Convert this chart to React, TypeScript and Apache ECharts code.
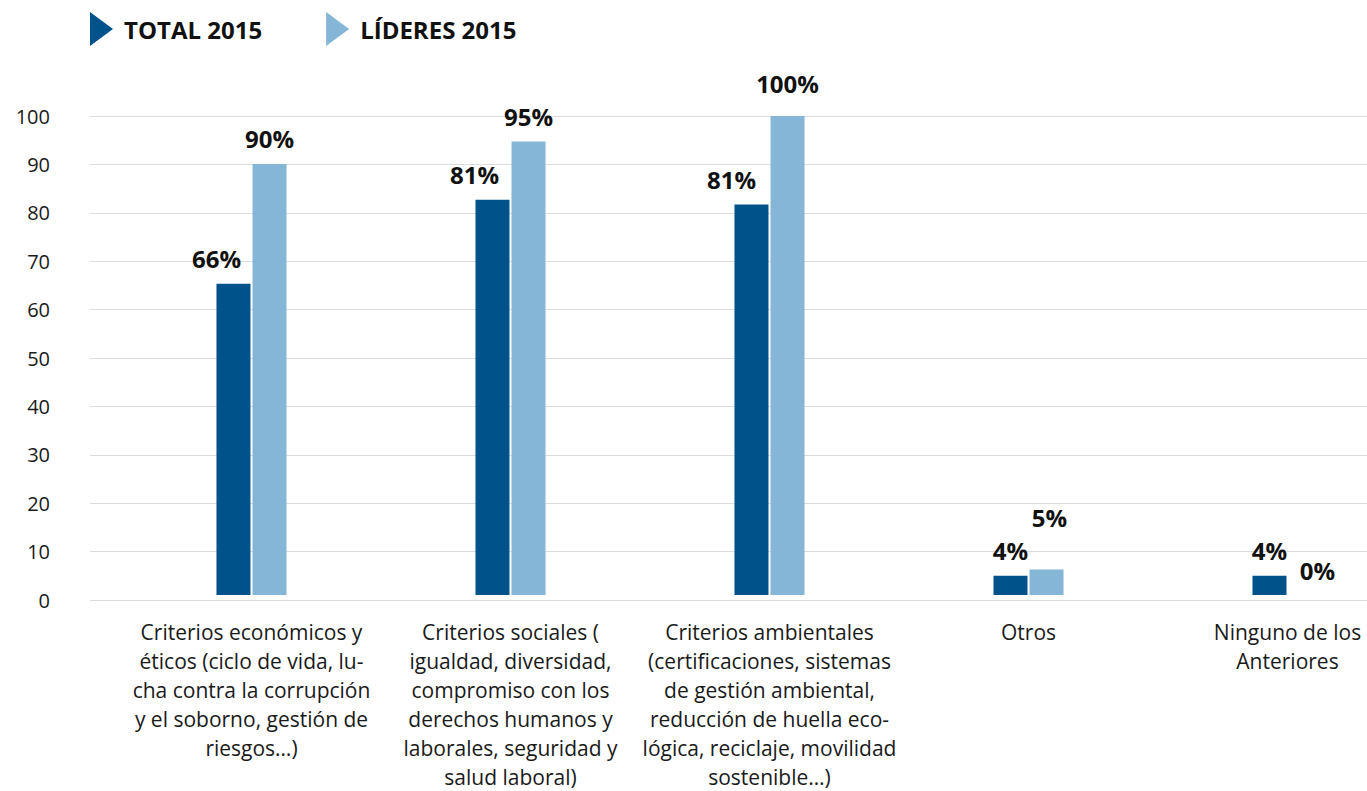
import React, { useEffect, useRef } from "react";
import * as echarts from "echarts";

const categories = [
  "Criterios económicos y\néticos (ciclo de vida, lu-\ncha contra la corrupción\ny el soborno, gestión de\nriesgos…)",
  "Criterios sociales (\nigualdad, diversidad,\ncompromiso con los\nderechos humanos y\nlaborales, seguridad y\nsalud laboral)",
  "Criterios ambientales\n(certificaciones, sistemas\nde gestión ambiental,\nreducción de huella eco-\nlógica, reciclaje, movilidad\nsostenible…)",
  "Otros",
  "Ninguno de los\nAnteriores",
];

const seriesNames = ["TOTAL 2015", "LÍDERES 2015"];
const totalValues = [65, 82.5, 81.5, 4, 4];
const lideresValues = [90, 94.7, 100, 5.3, 0];
const totalLabels = ["66%", "81%", "81%", "4%", "4%"];
const lideresLabels = ["90%", "95%", "100%", "5%", "0%"];

const FONT = '"Open Sans", "Noto Sans", sans-serif';
const DARK = "#00528a";
const LIGHT = "#85b6d8";

// label nudges (styling only), as placed in the original layout
const totalLabelNudge = [[-17, 0], [-18, 0], [-20, 0], [0, 0], [0, 0]];
const lideresLabelNudge = [[0, 0], [0, 0], [0, -8], [3, -27], [12, 0]];

export default function App() {
  const ref = useRef<HTMLDivElement>(null);

  useEffect(() => {
    if (!ref.current) return;
    const chart = echarts.init(ref.current, null, { renderer: "svg" });
    const labelStyle = {
      show: true,
      position: "top",
      distance: 13,
      fontSize: 24,
      fontWeight: "bold",
      color: "#111",
      fontFamily: FONT,
    };
    const build = (vals: number[], nudges: number[][]) =>
      vals.map((v, i) => ({ value: v, label: { offset: nudges[i] } }));
    chart.setOption({
      animation: false,
      backgroundColor: "#ffffff",
      textStyle: { fontFamily: FONT },
      legend: {
        left: 90,
        top: 12,
        padding: 0,
        itemWidth: 23,
        itemHeight: 34,
        itemGap: 64,
        symbolKeepAspect: false,
        selectedMode: false,
        icon: "path://M0,0L23,17L0,34Z",
        textStyle: {
          fontSize: 24,
          fontWeight: "bold",
          color: "#111",
          fontFamily: FONT,
          padding: [0, 0, 0, 6],
        },
        data: seriesNames,
      },
      grid: [
        { left: 90, right: 53, top: 116, bottom: 191 },
        { left: 122, right: 3, top: 116, bottom: 191 },
      ],
      xAxis: [
        { type: "value", gridIndex: 0, show: false, min: 0, max: 1 },
        {
          type: "category",
          gridIndex: 1,
          data: categories,
          axisLine: { show: false },
          axisTick: { show: false },
          axisLabel: {
            interval: 0,
            margin: 22,
            fontSize: 21,
            lineHeight: 29,
            color: "#1a1a1a",
            fontFamily: FONT,
            align: "center",
          },
        },
      ],
      yAxis: [
        {
          type: "value",
          gridIndex: 0,
          min: 0,
          max: 100,
          interval: 10,
          axisLine: { show: false },
          axisTick: { show: false },
          splitLine: { lineStyle: { color: "#dcdcdc", width: 1 } },
          axisLabel: {
            margin: 40,
            fontSize: 20,
            color: "#1a1a1a",
            fontFamily: FONT,
          },
        },
        {
          type: "value",
          gridIndex: 1,
          min: 0,
          max: 100,
          interval: 10,
          show: false,
          splitLine: { show: false },
        },
      ],
      series: [
        {
          name: seriesNames[0],
          type: "bar",
          xAxisIndex: 1,
          yAxisIndex: 1,
          data: build(totalValues, totalLabelNudge),
          barWidth: 34,
          barGap: "6%",
          itemStyle: { color: DARK },
          label: {
            ...labelStyle,
            formatter: (p: any) => totalLabels[p.dataIndex],
          },
        },
        {
          name: seriesNames[1],
          type: "bar",
          xAxisIndex: 1,
          yAxisIndex: 1,
          data: build(lideresValues, lideresLabelNudge),
          barWidth: 34,
          barGap: "6%",
          itemStyle: { color: LIGHT },
          label: {
            ...labelStyle,
            formatter: (p: any) => lideresLabels[p.dataIndex],
          },
        },
      ],
    });
    return () => chart.dispose();
  }, []);

  return (
    <div
      style={{
        position: "fixed",
        left: 0,
        top: 0,
        width: 1367,
        height: 791,
        overflow: "hidden",
        background: "#fff",
      }}
    >
      <div ref={ref} style={{ width: 1420, height: 791 }} />
    </div>
  );
}
